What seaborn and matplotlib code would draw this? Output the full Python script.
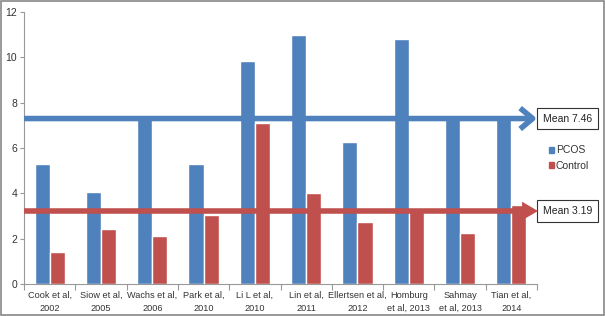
import pandas as pd
import seaborn as sns
import matplotlib.pyplot as plt
from matplotlib.patches import Patch
import matplotlib.transforms as mtransforms

studies = ["Cook et al,\n2002", "Siow et al,\n2005", "Wachs et al,\n2006", "Park et al,\n2010",
           "Li L et al,\n2010", "Lin et al,\n2011", "Ellertsen et al,\n2012", "Homburg\net al, 2013",
           "Sahmay\net al, 2013", "Tian et al,\n2014"]
pcos = [5.3, 4.08, 7.3, 5.3, 9.82, 10.97, 6.25, 10.83, 7.3, 7.3]
control = [1.41, 2.41, 2.11, 3.04, 7.1, 4.0, 2.74, 3.2, 2.23, 3.48]
mean_lines = [7.3, 3.22]
mean_labels = ["Mean 7.46", "Mean 3.19"]

blue = "#4F81BD"
red = "#C0504D"

df = pd.DataFrame({
    "study": studies * 2,
    "value": pcos + control,
    "group": ["PCOS"] * len(studies) + ["Control"] * len(studies),
})

sns.set_style("white")
plt.rcParams['font.family'] = ['Liberation Sans', 'DejaVu Sans']

fig = plt.figure(figsize=(6.05, 3.16), dpi=100)
ax = fig.add_axes([0.0397, 0.1013, 0.8479, 0.8607])

sns.barplot(data=df, x="study", y="value", hue="group", palette=[blue, red],
            width=0.59, saturation=1, ax=ax, legend=False)

ax.set_xlim(-0.5, len(studies) - 0.5)
ax.set_ylim(0, 12)
ax.set_yticks(range(0, 13, 2))
ax.set_xlabel("")
ax.set_ylabel("")

# category labels on minor ticks, separators on major ticks
ax.set_xticks([i - 0.5 for i in range(len(studies) + 1)])
ax.set_xticklabels([])
ax.set_xticks(range(len(studies)), minor=True)
ax.set_xticklabels(studies, minor=True, fontsize=6.6, color="#333333", linespacing=1.55)
ax.tick_params(axis="x", which="major", direction="out", length=4, color="#999999", bottom=True)
ax.tick_params(axis="x", which="minor", length=0, pad=5)
ax.tick_params(axis="y", direction="out", length=3, color="#999999", left=True,
               labelsize=7.5, labelcolor="#333333", pad=2)

sns.despine(ax=ax)
for s in ["left", "bottom"]:
    ax.spines[s].set_color("#999999")
    ax.spines[s].set_linewidth(0.8)

# mean arrows
ax.annotate("", xy=(len(studies) - 0.5, mean_lines[0]), xytext=(-0.5, mean_lines[0]),
            arrowprops=dict(arrowstyle="->,head_length=0.9,head_width=0.75", color=blue, lw=4,
                            shrinkA=0, shrinkB=0, capstyle="butt", joinstyle="round"),
            annotation_clip=False, zorder=5)
ax.annotate("", xy=(len(studies) - 0.48, mean_lines[1]), xytext=(-0.5, mean_lines[1]),
            arrowprops=dict(arrowstyle="-|>,head_length=0.55,head_width=0.32", color=red, lw=4,
                            shrinkA=0, shrinkB=0, capstyle="butt", joinstyle="miter"),
            annotation_clip=False, zorder=5)

trans = mtransforms.blended_transform_factory(ax.transAxes, ax.transData)
for yv, lab in zip(mean_lines, mean_labels):
    ax.text(1.012, yv, lab, transform=trans, fontsize=7.5, color="#222222", va="center", ha="left",
            bbox=dict(boxstyle="square,pad=0.55", fc="white", ec="#333333", lw=0.8), clip_on=False)

handles = [Patch(color=blue, label="PCOS"), Patch(color=red, label="Control")]
fig.legend(handles=handles, loc="center left", bbox_to_anchor=(0.892, 0.5), frameon=False,
           fontsize=7.5, handlelength=0.5, handleheight=0.5, handletextpad=0.15,
           labelspacing=0.5, labelcolor="#333333")

fig.patches.append(plt.Rectangle((0.001, 0.002), 0.997, 0.995, transform=fig.transFigure,
                                 fill=False, ec="#888888", lw=1.2))

fig.savefig("out.png", dpi=100)
